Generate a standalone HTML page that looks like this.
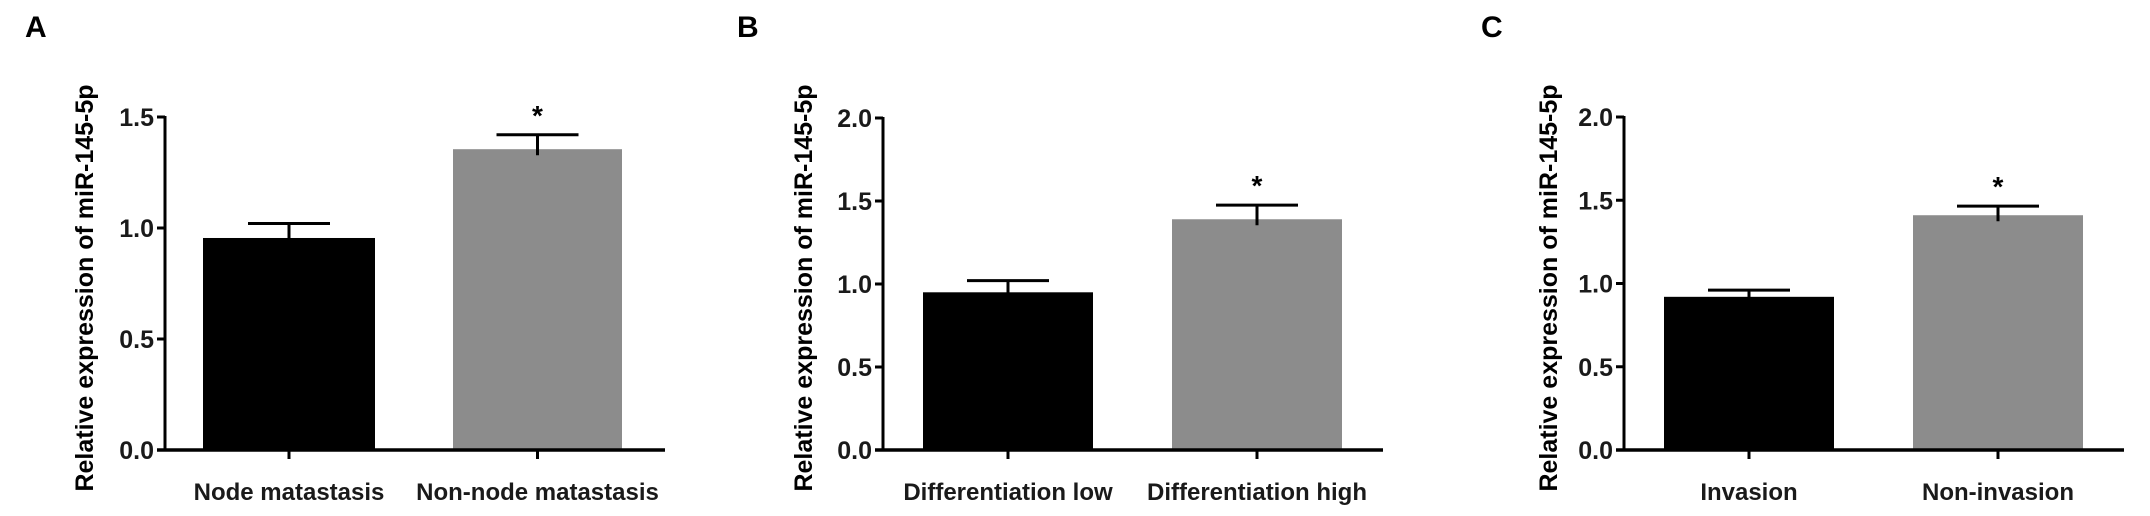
<!DOCTYPE html>
<html><head><meta charset="utf-8"><style>
html,body{margin:0;padding:0;background:#fff;}
svg{display:block;font-family:"Liberation Sans",Arial,sans-serif;font-weight:bold;}
</style></head><body>
<svg id="fig" width="2150" height="516" viewBox="0 0 2150 516" xmlns="http://www.w3.org/2000/svg"></svg>
<script>
const panelLabels = ["A","B","C"];
const categoriesA = ["Node matastasis","Non-node matastasis"];
const categoriesB = ["Differentiation low","Differentiation high"];
const categoriesC = ["Invasion","Non-invasion"];
const valuesA = [0.955, 1.355];
const valuesB = [0.95, 1.39];
const valuesC = [0.92, 1.41];
const errorsA = [0.065, 0.065];
const errorsB = [0.07, 0.085];
const errorsC = [0.04, 0.055];
const ticksA = [0, 0.5, 1.0, 1.5];
const ticksB = [0, 0.5, 1.0, 1.5, 2.0];
const ticksC = [0, 0.5, 1.0, 1.5, 2.0];
const starsA = [false, true];
const starsB = [false, true];
const starsC = [false, true];

const NS = "http://www.w3.org/2000/svg";
const svg = document.getElementById("fig");
function mk(tag, attrs, parent){
  const e = document.createElementNS(NS, tag);
  for (const k in attrs) e.setAttribute(k, attrs[k]);
  (parent||svg).appendChild(e);
  return e;
}
const layouts = [
  {axisX:165, yTop:117, yMax:1.5, bars:[[203,375],[453,622]], axisEnd:665, labelX:25, titleX:93},
  {axisX:883, yTop:118, yMax:2.0, bars:[[923,1093],[1172,1342]], axisEnd:1383, labelX:737, titleX:812},
  {axisX:1624, yTop:117, yMax:2.0, bars:[[1664,1834],[1913,2083]], axisEnd:2124, labelX:1481, titleX:1557}
];
const cats=[categoriesA,categoriesB,categoriesC], vals=[valuesA,valuesB,valuesC], errs=[errorsA,errorsB,errorsC], ticks=[ticksA,ticksB,ticksC], stars=[starsA,starsB,starsC];
const fills=["#000","#8c8c8c"];
const y0=450;
layouts.forEach((L,p)=>{
  const g = mk("g",{});
  
  
  const yS = v => y0 - (v/L.yMax)*(y0-L.yTop);
  const pl = mk("text",{x:L.labelX,y:37,"font-size":30},g); pl.textContent=panelLabels[p];
  
  
  const ymid=288;
  const tt = mk("text",{x:L.titleX,y:ymid,"font-size":25,"text-anchor":"middle",transform:`rotate(-90 ${L.titleX} ${ymid})`},g);
  tt.textContent="Relative expression of miR-145-5p";
  
  
  vals[p].forEach((v,i)=>{
    const [x1,x2]=L.bars[i]; const cx=(x1+x2)/2;
    const r = mk("rect",{x:x1,y:yS(v),width:x2-x1,height:y0-yS(v),fill:fills[i]},g);
    
    
    const et=yS(v+errs[p][i]);
    const eb = mk("path",{d:`M${cx} ${yS(v)+6}V${et}M${cx-41} ${et}H${cx+41}`,stroke:"#000","stroke-width":3,fill:"none"},g);
    
    
    const tk = mk("line",{x1:cx,y1:y0,x2:cx,y2:y0+9,stroke:"#000","stroke-width":3},g);
    
    
    const cl = mk("text",{x:cx,y:500,"font-size":24,"text-anchor":"middle",fill:"#1a1a1a"},g);
    cl.textContent=cats[p][i];
    
    
    if (stars[p][i]) {
      const st = mk("text",{x:cx,y:et-10,"font-size":28,"text-anchor":"middle"},g);
      st.textContent="*";
      
      
    }
  });
  const ya = mk("line",{x1:L.axisX,y1:L.yTop-1,x2:L.axisX,y2:y0+1,stroke:"#000","stroke-width":3},g);
  
  
  const xa = mk("line",{x1:L.axisX-8,y1:y0,x2:L.axisEnd,y2:y0,stroke:"#000","stroke-width":3.5},g);
  
  
  ticks[p].forEach(t=>{
    const y=yS(t);
    const tl = mk("line",{x1:L.axisX-8,y1:y,x2:L.axisX,y2:y,stroke:"#000","stroke-width":3},g);
    
    
    const tx = mk("text",{x:L.axisX-11,y:y+9,"font-size":25,"text-anchor":"end",fill:"#1a1a1a"},g);
    tx.textContent=t.toFixed(1);
    
    
  });
});
</script>
</body></html>
